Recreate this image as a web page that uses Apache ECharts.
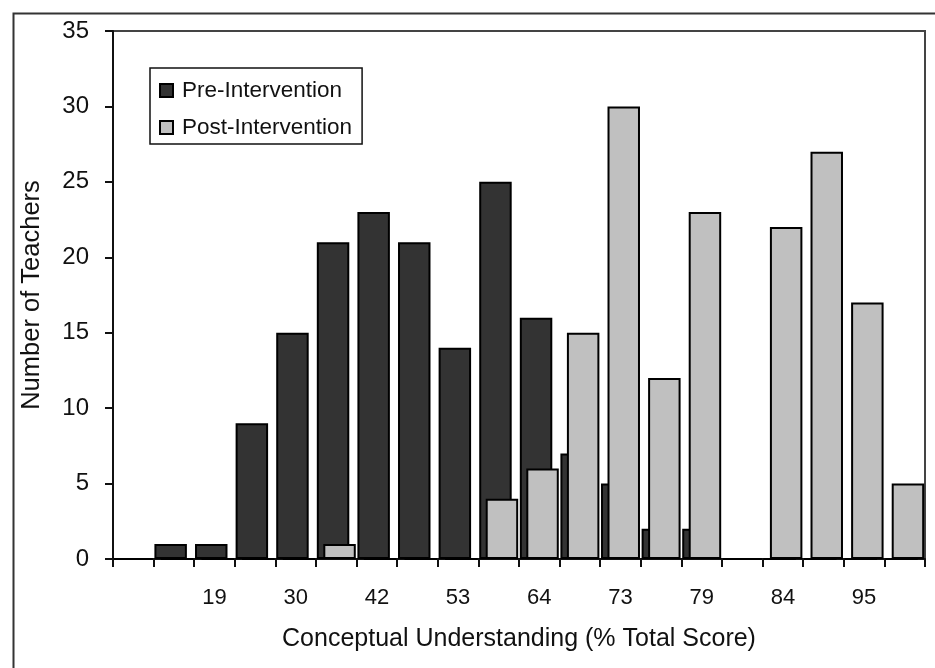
<!DOCTYPE html>
<html>
<head>
<meta charset="utf-8">
<script src="https://cdn.jsdelivr.net/npm/echarts@6/dist/echarts.min.js"></script>
<style>
  html, body { margin: 0; padding: 0; background: #fff; }
  #chart { width: 935px; height: 668px; }
</style>
</head>
<body>
<div id="chart"></div>
<script>
const tickLabels = ['', '', '19', '', '30', '', '42', '', '53', '', '64', '', '73', '', '79', '', '84', '', '95', ''];
const preIntervention  = [0, 1, 1, 9, 15, 21, 23, 21, 14, 25, 16, 7, 5, 2, 2, 0, 0, 0, 0, 0];
const postIntervention = [0, 0, 0, 0, 0, 1, 0, 0, 0, 4, 6, 15, 30, 12, 23, 0, 22, 27, 17, 5];
const yTicks = { min: 0, max: 35, interval: 5 };

const FONT = '"Liberation Sans", Arial, sans-serif';
const chart = echarts.init(document.getElementById('chart'), null, { renderer: 'canvas' });
chart.setOption({
  animation: false,
  backgroundColor: '#ffffff',
  textStyle: { fontFamily: FONT, color: '#111' },
  graphic: [{
    type: 'rect', left: 11, top: 11, z: -10,
    shape: { x: 0, y: 0, width: 1000, height: 1000 },
    style: { fill: 'none', stroke: '#333', lineWidth: 2 }
  }],
  grid: {
    left: 113, right: 10, top: 31, bottom: 109,
    show: true, borderColor: '#444', borderWidth: 2, backgroundColor: 'transparent'
  },
  legend: {
    orient: 'vertical', left: 150, top: 68,
    padding: [11, 10, 5, 9],
    borderColor: '#111', borderWidth: 1.5,
    itemWidth: 13, itemHeight: 13, itemGap: 14,
    icon: 'rect',
    textStyle: { fontFamily: FONT, fontSize: 22.5, color: '#111', padding: [0, 0, 0, 4] },
    data: ['Pre-Intervention', 'Post-Intervention']
  },
  xAxis: {
    type: 'category',
    data: tickLabels,
    boundaryGap: true,
    name: 'Conceptual Understanding (% Total Score)',
    nameLocation: 'middle', nameGap: 68,
    nameTextStyle: { fontFamily: FONT, fontSize: 25, color: '#111' },
    axisLine: { lineStyle: { color: '#111', width: 2 } },
    axisTick: { show: true, interval: 0, length: 8, lineStyle: { color: '#111', width: 2 } },
    axisLabel: { interval: 0, margin: 28, fontFamily: FONT, fontSize: 22, color: '#111' },
    splitLine: { show: false }
  },
  yAxis: {
    type: 'value',
    min: yTicks.min, max: yTicks.max, interval: yTicks.interval,
    name: 'Number of Teachers',
    nameLocation: 'middle', nameGap: 68, nameRotate: 90,
    nameTextStyle: { fontFamily: FONT, fontSize: 25.5, color: '#111' },
    axisLine: { show: true, lineStyle: { color: '#111', width: 2 } },
    axisTick: { show: true, length: 8, lineStyle: { color: '#111', width: 2 } },
    axisLabel: { margin: 24, fontFamily: FONT, fontSize: 24, color: '#111' },
    splitLine: { show: false }
  },
  series: [
    {
      name: 'Pre-Intervention', type: 'bar', data: preIntervention,
      barWidth: '80%', barGap: '-80%',
      itemStyle: { color: '#333333', borderColor: '#000', borderWidth: 2 }
    },
    {
      name: 'Post-Intervention', type: 'bar', data: postIntervention,
      barWidth: '80%', barGap: '-80%',
      itemStyle: { color: '#c0c0c0', borderColor: '#000', borderWidth: 2 }
    }
  ]
});
</script>
</body>
</html>
